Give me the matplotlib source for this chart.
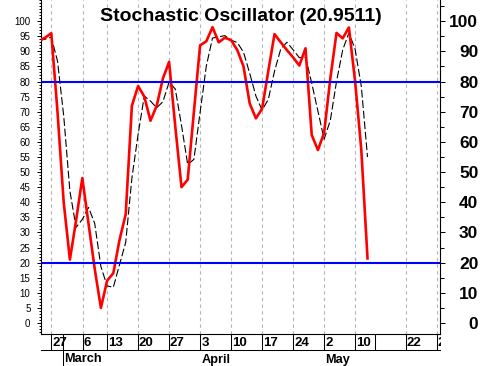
import matplotlib
matplotlib.use("Agg")
import matplotlib.pyplot as plt
import matplotlib.transforms as mtransforms
from matplotlib.ticker import FixedLocator, MultipleLocator

# ---------------- data (trading-day index) ----------------
days = list(range(-2, 52))
pct_k = [93.5, 94.5, 96.0, 70.0, 40.0, 21.0, 34.0, 48.0, 33.0, 18.0, 5.0, 14.0, 16.5, 27.5,
         36.0, 72.0, 78.5, 75.0, 67.0, 72.0, 81.0, 86.5, 65.0, 45.0, 47.5, 70.0, 92.0, 93.3,
         98.0, 93.0, 94.5, 93.7, 90.4, 85.0, 72.7, 67.8, 71.0, 83.5, 95.7, 93.0, 90.4, 88.0,
         85.3, 91.0, 62.3, 57.3, 63.0, 81.0, 96.1, 94.3, 97.9, 80.0, 57.3, 21.4]
pct_d = [93.6, 94.0, 94.7, 86.8, 68.7, 43.7, 31.7, 34.3, 38.3, 33.0, 18.7, 12.3, 11.8, 19.3,
         26.7, 48.0, 62.5, 75.2, 73.5, 71.3, 73.3, 79.8, 77.5, 65.5, 52.5, 54.2, 69.8, 85.1,
         94.4, 94.8, 95.2, 93.7, 92.9, 89.7, 82.7, 75.2, 70.5, 74.1, 83.4, 90.7, 93.0, 90.5,
         87.9, 88.1, 79.5, 70.2, 60.9, 67.1, 80.0, 90.5, 96.1, 90.7, 78.4, 55.0]

title = "Stochastic Oscillator (20.9511)"
overbought, oversold = 80, 20

week_pos = [0, 5.06, 8.94, 13.94, 18.94, 24.03, 29.03, 34.03, 39.03, 44.03, 49.03, 57.16, 62.16]
week_lbl = ["27", "6", "13", "20", "27", "3", "10", "17", "24", "2", "10", "22", "2"]
extra_sep = [52.2]
month_pos = [1.94, 24.03, 44.03]
month_lbl = ["March", "April", "May"]

left_ticks = list(range(0, 101, 5))
right_ticks = list(range(0, 101, 10))

# ---------------- figure ----------------
W, H, DPI = 481, 366, 100
fig = plt.figure(figsize=(W / DPI, H / DPI), dpi=DPI)
L, R, T, B = 41, 440, 0, 334
ax = fig.add_axes([L / W, (H - B) / H, (R - L) / W, (B - T) / H])
ax.set_xlim(-1.66, 62.69)
ax.set_ylim(-3.64, 107.0)

FONT = "Liberation Sans"

# grid
for p in week_pos:
    ax.axvline(p, color="#b4b4b4", lw=0.8, ls=(0, (3, 3)), zorder=1)

ax.plot(days, pct_d, color="black", lw=0.8, ls=(0, (7, 2.5)), zorder=3)
ax.plot(days, pct_k, color="#ff0000", lw=1.9, zorder=4)
ax.axhline(overbought, color="#0000ff", lw=1.5, zorder=5)
ax.axhline(oversold, color="#0000ff", lw=1.5, zorder=5)

# spines
for s in ["top", "right"]:
    ax.spines[s].set_visible(False)
ax.spines["left"].set_linewidth(0.8)
ax.spines["bottom"].set_linewidth(0.8)

# left axis
ax.yaxis.set_major_locator(FixedLocator(left_ticks))
ax.yaxis.set_minor_locator(MultipleLocator(1))
ax.tick_params(axis="y", which="major", length=2.6, width=0.7, pad=5, labelsize=7)
ax.tick_params(axis="y", which="minor", length=1.6, width=0.7)
for t in ax.get_yticklabels():
    t.set_fontfamily(FONT)

# x axis separators as ticks
ax.xaxis.set_major_locator(FixedLocator(week_pos + extra_sep))
ax.xaxis.set_minor_locator(FixedLocator(month_pos))
ax.tick_params(axis="x", which="major", length=11.5, width=0.75, labelbottom=False)
ax.tick_params(axis="x", which="minor", length=23.5, width=0.75)

# line under the day row
ax.plot([-1.66, 62.69], [-16 / 334] * 2, transform=ax.get_xaxis_transform(),
        color="black", lw=0.75, clip_on=False)

off = mtransforms.ScaledTranslation(1 / DPI, 0, fig.dpi_scale_trans)
clipbox = mtransforms.TransformedBbox(mtransforms.Bbox([[0, 0], [(R + 1) / W, 1]]), fig.transFigure)
for p, lbl in zip(week_pos, week_lbl):
    t = ax.text(p, -8.5 / 334, lbl, transform=ax.get_xaxis_transform() + off,
                ha="left", va="center", fontsize=9.5, fontweight="bold", family=FONT)
    t.set_clip_box(clipbox)
    t.set_clip_on(True)
for p, lbl in zip(month_pos, month_lbl):
    ax.text(p, -25.5 / 334, lbl, transform=ax.get_xaxis_transform() + off,
            ha="left", va="center", fontsize=9.2, fontweight="bold", family=FONT)

# right axis
ax2 = ax.twinx()
ax2.set_ylim(ax.get_ylim())
for s in ["top", "left", "bottom"]:
    ax2.spines[s].set_visible(False)
ax2.spines["right"].set_linewidth(0.8)
ax2.yaxis.set_major_locator(FixedLocator(right_ticks))
ax2.yaxis.set_minor_locator(FixedLocator(list(range(-5, 106, 10))))
ax2.tick_params(axis="y", which="major", length=3.6, width=0.75, pad=24, labelsize=12.5)
ax2.tick_params(axis="y", which="minor", length=2.8, width=0.75)
for t in ax2.get_yticklabels():
    t.set_fontfamily(FONT)
    t.set_fontweight("bold")
    t.set_horizontalalignment("right")

# title
ax.text(0.5, (B - 21) / (B - T), title, transform=ax.transAxes, ha="center", va="baseline",
        fontsize=14, fontweight="bold", family=FONT, zorder=6)

fig.savefig("out.png", dpi=DPI)
